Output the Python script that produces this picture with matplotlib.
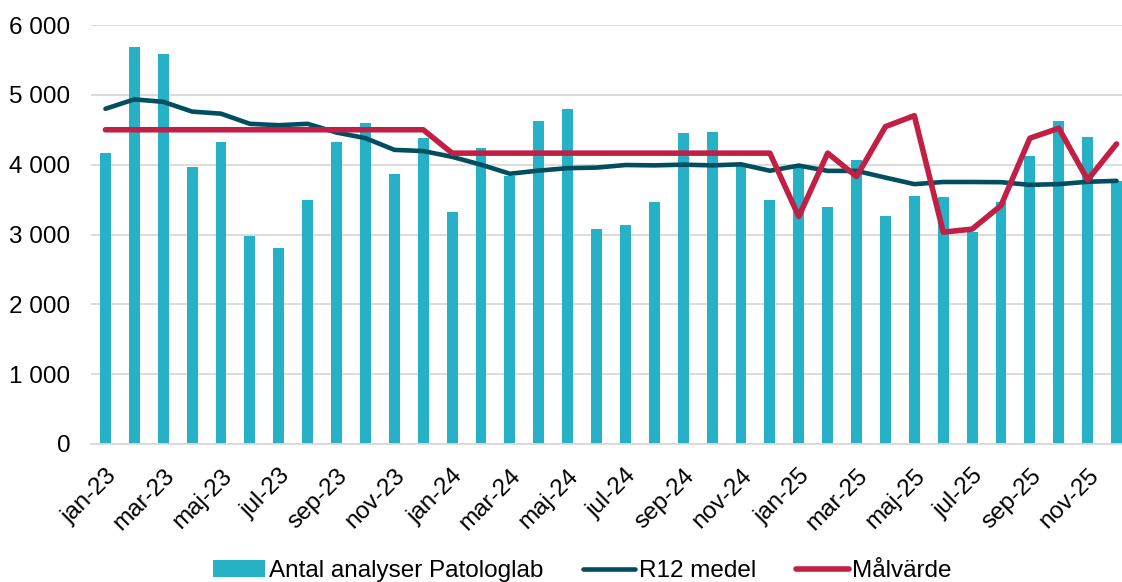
import matplotlib.pyplot as plt
import numpy as np
from matplotlib.ticker import FuncFormatter

plt.rcParams['font.family'] = ['Liberation Sans', 'DejaVu Sans']

months = ['jan', 'feb', 'mar', 'apr', 'maj', 'jun', 'jul', 'aug', 'sep', 'okt', 'nov', 'dec']
labels = [f'{m}-{y}' for y in ['23', '24', '25'] for m in months]

antal = [4160, 5680, 5585, 3970, 4330, 2980, 2805, 3500, 4330, 4595, 3865, 4380,
         3325, 4240, 3840, 4620, 4790, 3085, 3130, 3470, 4450, 4465, 3990, 3495,
         3950, 3395, 4065, 3260, 3550, 3540, 3040, 3465, 4125, 4625, 4390, 3760]

r12 = [4800, 4935, 4900, 4760, 4730, 4585, 4565, 4585, 4460, 4380, 4212, 4195,
       4112, 4000, 3870, 3915, 3950, 3958, 3995, 3990, 4000, 3990, 4005, 3913,
       3987, 3911, 3911, 3815, 3721, 3752, 3752, 3749, 3711, 3721, 3755, 3768]

malvarde = [4500, 4500, 4500, 4500, 4500, 4500, 4500, 4500, 4500, 4500, 4500, 4500,
            4165, 4165, 4165, 4165, 4165, 4165, 4165, 4165, 4165, 4165, 4165, 4165,
            3257, 4165, 3830, 4545, 4702, 3034, 3077, 3415, 4379, 4522, 3782, 4297]

x = np.arange(len(labels))

fig = plt.figure(figsize=(11.22, 5.82), dpi=100)
ax = fig.add_axes([91 / 1122, 1 - 444 / 582, (1131 - 91) / 1122, (444 - 25) / 582])

bars = ax.bar(x, antal, width=0.38, color='#27B1C6', label='Antal analyser Patologlab', zorder=2)
l1, = ax.plot(x, r12, color='#004E60', lw=3.3, solid_capstyle='round', solid_joinstyle='round',
              label='R12 medel', zorder=3)
l2, = ax.plot(x, malvarde, color='#C21F45', lw=4.0, solid_capstyle='round', solid_joinstyle='round',
              label='Målvärde', zorder=4)

ax.set_xlim(-0.5, len(labels) - 0.5)
ax.set_ylim(0, 6000)
ax.set_yticks(range(0, 6001, 1000))
ax.yaxis.set_major_formatter(FuncFormatter(lambda v, p: f'{int(v):,}'.replace(',', ' ')))
ax.grid(axis='y', color='#D9D9D9', lw=1.3, zorder=0)
ax.set_axisbelow(True)
for s in ['top', 'right', 'left']:
    ax.spines[s].set_visible(False)
ax.spines['bottom'].set_color('#D9D9D9')
ax.spines['bottom'].set_linewidth(1.3)

ax.set_xticks(x[::2])
ax.set_xticklabels(labels[::2], rotation=45, ha='right', rotation_mode='anchor')
ax.tick_params(axis='both', length=0, labelsize=17.5, colors='black')
ax.tick_params(axis='y', pad=15)
ax.tick_params(axis='x', pad=15)

fig.legend([bars, l1, l2], ['Antal analyser Patologlab', 'R12 medel', 'Målvärde'],
           loc='center', bbox_to_anchor=(0.519, 11 / 582), ncol=3, frameon=False,
           fontsize=17.5, handlelength=2.15, handletextpad=0.15, columnspacing=1.65)

fig.savefig('out.png', dpi=100)
